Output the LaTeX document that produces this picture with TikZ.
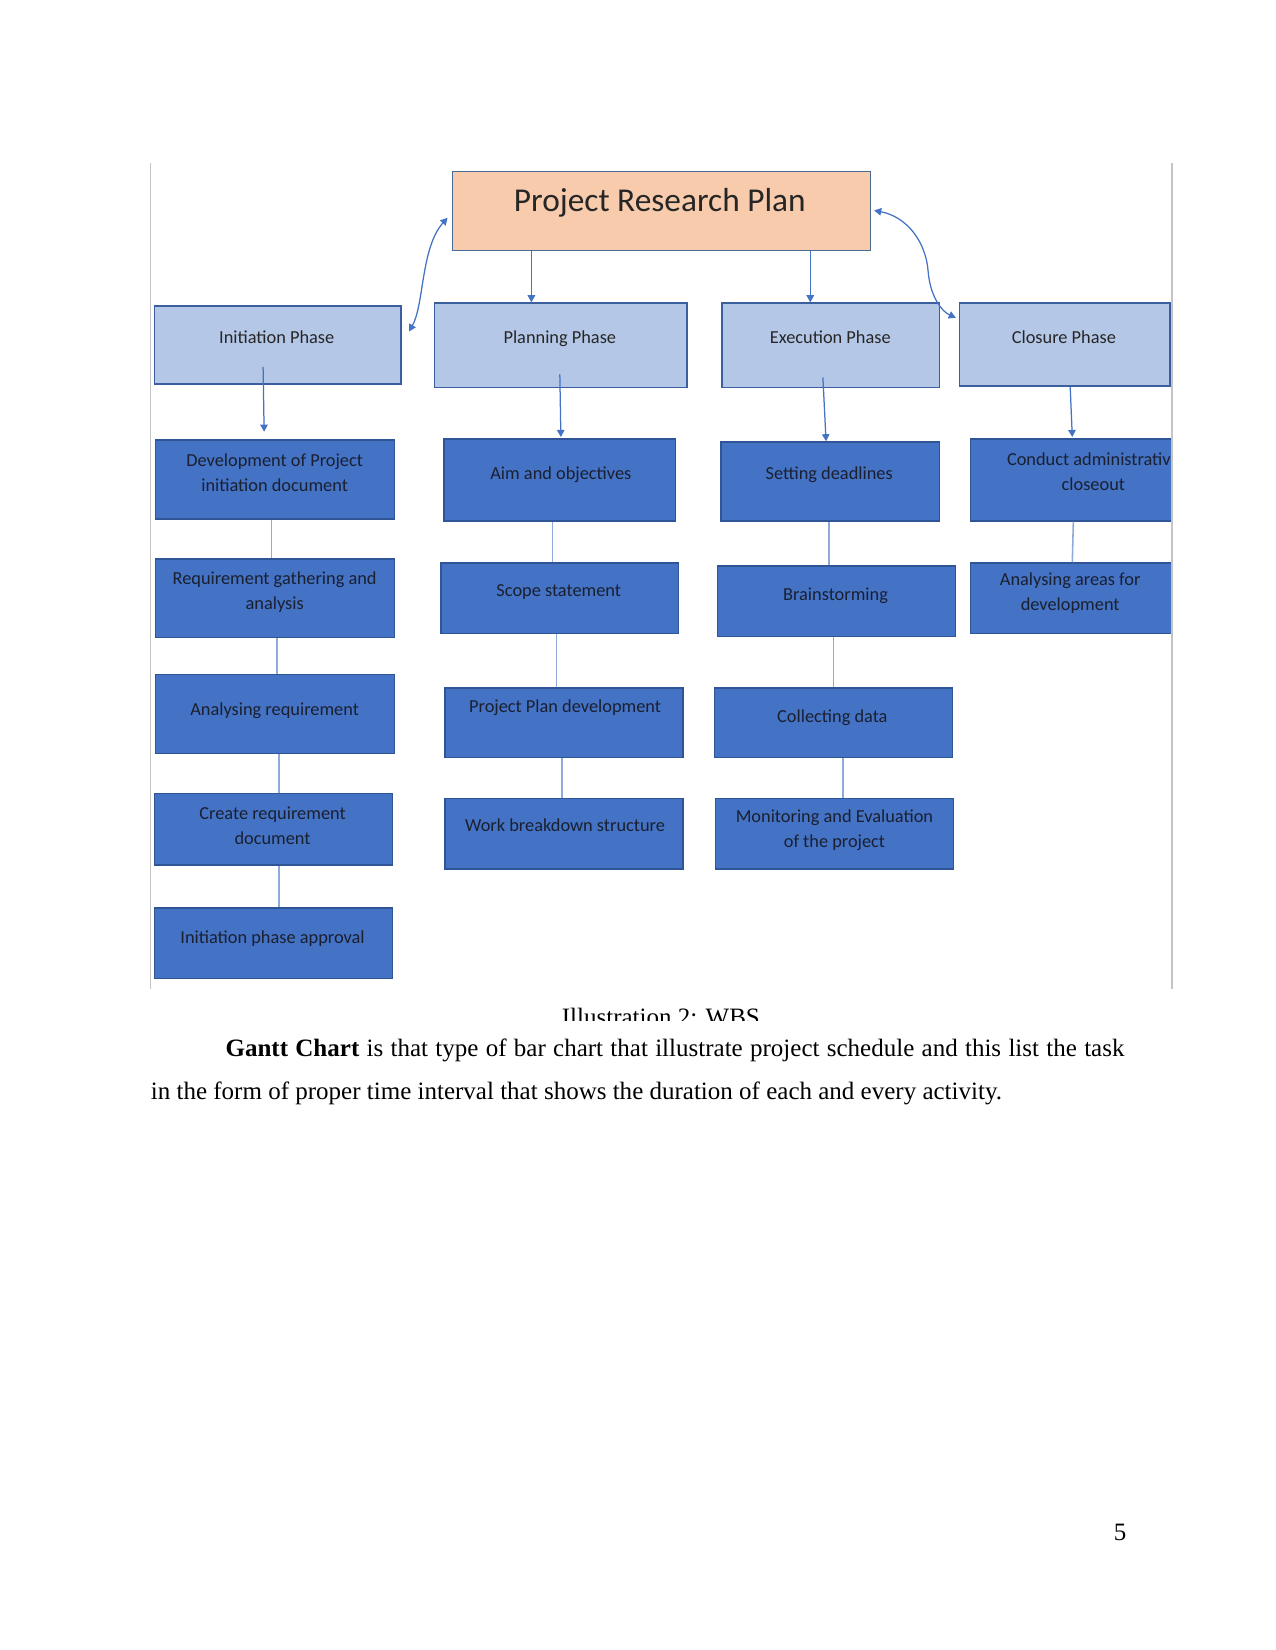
\documentclass[tikz,border=0pt]{standalone}
\usepackage{fontspec}
\setmainfont{Liberation Serif}
\newfontfamily\carl{Carlito}
\usetikzlibrary{arrows.meta,fit,calc}
\definecolor{taskfill}{HTML}{4472C4}
\definecolor{taskline}{HTML}{2F5597}
\definecolor{phasefill}{HTML}{B4C7E7}
\definecolor{phaseline}{HTML}{3A5E9E}
\definecolor{rootfill}{HTML}{F8CBAD}
\definecolor{rootline}{HTML}{4A6A96}
\definecolor{arrblue}{HTML}{4472C4}
\definecolor{connblue}{HTML}{8FAADC}
\definecolor{framegrey}{HTML}{C4C4C4}
\definecolor{darktxt}{HTML}{1A2030}
\begin{document}
\begin{tikzpicture}[x=0.50495pt,y=-0.50495pt,
  rootbox/.style={draw=rootline,fill=rootfill,line width=0.7pt,inner sep=0pt},
  phasebox/.style={draw=phaseline,fill=phasefill,line width=0.7pt,inner sep=0pt},
  taskbox/.style={draw=taskline,fill=taskfill,line width=0.7pt,inner sep=0pt},
  lbl/.style={font=\carl\fontsize{8.8}{12.1}\selectfont,text=darktxt,align=center,inner sep=0pt},
  plbl/.style={font=\carl\fontsize{8.8}{12.1}\selectfont,text=black!85,align=center,inner sep=0pt},
  arr/.style={draw=arrblue,line width=0.6pt,-{Triangle[width=3.6pt,length=3.4pt]}},
  dblarr/.style={draw=arrblue,line width=0.6pt,{Triangle[width=3.6pt,length=3.4pt]}-{Triangle[width=3.6pt,length=3.4pt]}},
  conn/.style={draw=connblue,line width=0.75pt},
  frame/.style={draw=framegrey,line width=0.75pt},
  body/.style={font=\fontsize{12}{14}\selectfont,inner sep=0pt}
]
\useasboundingbox (0,0) rectangle (1212,1568);
\fill[white] (0,0) rectangle (1212,1568);

% root
\node[rootbox,fit={(430,163)(827,238)}] (root) {};
\node[font=\carl\fontsize{16}{18}\selectfont,text=black!85,inner sep=0pt,anchor=base] (rootL) at (627,201) {Project Research Plan};

% phases
\node[phasebox,fit={(147,291)(381,365)}] (init) {};
\node[plbl] (initL) at (263,320) {Initiation Phase};
\node[phasebox,fit={(413,288)(653,368)}] (plan) {};
\node[plbl] (planL) at (532,322) {Planning Phase};
\node[phasebox,fit={(686,288)(893,368)}] (exec) {};
\node[plbl] (execL) at (789,320) {Execution Phase};
\node[phasebox,fit={(912,288)(1112,367)}] (clos) {};
\node[plbl] (closL) at (1011,320) {Closure Phase};

% initiation column
\node[taskbox,fit={(148,418)(375,493)}] (dev) {};
\node[lbl] (devL) at (261,449.5) {Development of Project\\initiation document};
\node[taskbox,fit={(148,531)(375,606)}] (req) {};
\node[lbl] (reqL) at (261,563) {Requirement gathering and\\analysis};
\node[taskbox,fit={(148,641)(375,716)}] (ana) {};
\node[lbl] (anaL) at (261,675) {Analysing requirement};
\node[taskbox,fit={(147,754)(373,822)}] (cre) {};
\node[lbl] (creL) at (259,785) {Create requirement\\document};
\node[taskbox,fit={(147,863)(373,930)}] (app) {};
\node[lbl] (appL) at (259,892) {Initiation phase approval};

% planning column
\node[taskbox,fit={(422,417)(642,495)}] (aim) {};
\node[lbl] (aimL) at (533,451) {Aim and objectives};
\node[taskbox,fit={(419,535)(645,602)}] (scope) {};
\node[lbl] (scopeL) at (531,563) {Scope statement};
\node[taskbox,fit={(423,654)(649,720)}] (ppd) {};
\node[lbl] (ppdL) at (537,673) {Project Plan development};
\node[taskbox,fit={(423,759)(649,826)}] (wbs) {};
\node[lbl] (wbsL) at (537,784) {Work breakdown structure};

% execution column
\node[taskbox,fit={(685,420)(893,495)}] (dead) {};
\node[lbl] (deadL) at (788,451) {Setting deadlines};
\node[taskbox,fit={(682,538)(908,605)}] (brain) {};
\node[lbl] (brainL) at (794,566) {Brainstorming};
\node[taskbox,fit={(679,654)(905,720)}] (coll) {};
\node[lbl] (collL) at (791,682) {Collecting data};
\node[taskbox,fit={(680,759)(906,826)}] (mon) {};
\node[lbl] (monL) at (793,789) {Monitoring and Evaluation\\of the project};

% closure column (clipped by frame)
\begin{scope}
\clip (0,0) rectangle (1112.6,1568);
\node[taskbox,fit={(922,417)(1120,495)}] (cond) {};
\node[lbl] (condL) at (1039,448) {Conduct administrative\\closeout};
\node[taskbox,fit={(922,535)(1120,602)}] (areas) {};
\node[lbl] (areasL) at (1017,564) {Analysing areas for\\development};
\end{scope}

% frame lines
\coordinate (fl1) at (143,155); \coordinate (fl2) at (143,940);
\coordinate (fr1) at (1113.5,155); \coordinate (fr2) at (1113.5,940);
\draw[frame] (fl1) -- (fl2);
\draw[frame] (fr1) -- (fr2);

% root to phases
\coordinate (xp) at (505,0);
\coordinate (xe) at (770,0);
\draw[arr] (root.south -| xp) -- (plan.north -| xp);
\draw[arr] (root.south -| xe) -- (exec.north -| xe);
\draw[dblarr] ($(init.east)+(7,-13)$) .. controls (403,290) and (400,235) .. ($(root.west)+(-4,6.5)$);
\draw[dblarr] ($(root.east)+(3,-0.5)$) .. controls (862,206) and (880,230) .. (882,258) .. controls (884,282) and (895,296) .. ($(clos.west)+(-3,-25.5)$);

% phases to first tasks
\draw[arr] ($(init.south)+(-14,-17)$) -- ($(dev.north)+(-10.5,-7)$);
\draw[arr] ($(plan.south)+(-1,-13)$) -- ($(aim.north)+(1,-1)$);
\draw[arr] ($(exec.south)+(-7.5,-10)$) -- ($(dead.north)+(-4,0)$);
\draw[arr] ($(clos.south)+(5,0)$) -- ($(cond.north)+(-2,-1)$);

% task connectors
\coordinate (k1) at (258,0); \coordinate (k2) at (263,0); \coordinate (k3) at (265,0); \coordinate (k4) at (265,0);
\draw[conn] (dev.south -| k1) -- (req.north -| k1);
\draw[conn] (req.south -| k2) -- (ana.north -| k2);
\draw[conn] (ana.south -| k3) -- (cre.north -| k3);
\draw[conn] (cre.south -| k4) -- (app.north -| k4);
\coordinate (m1) at (525,0); \coordinate (m2) at (529,0); \coordinate (m3) at (534,0);
\draw[conn] (aim.south -| m1) -- (scope.north -| m1);
\draw[conn] (scope.south -| m2) -- (ppd.north -| m2);
\draw[conn] (ppd.south -| m3) -- (wbs.north -| m3);
\coordinate (e1) at (788,0); \coordinate (e2) at (792,0); \coordinate (e3) at (801,0);
\draw[conn] (dead.south -| e1) -- (brain.north -| e1);
\draw[conn] (brain.south -| e2) -- (coll.north -| e2);
\draw[conn] (coll.south -| e3) -- (mon.north -| e3);
\draw[conn] ($(cond.south)+(-1,0)$) -- ($(areas.north)+(-2,0)$);

% caption (cut off)
\begin{scope}
\clip (0,940) rectangle (1212,969.5);
\node[body,anchor=base] (cap) at (628,975) {Illustration 2: WBS};
\end{scope}

% body text
\node[body,anchor=base west] (line1) at (214,1004) {\makebox[431.3pt][s]{\textbf{Gantt Chart} is that type of bar chart that illustrate project schedule and this list the task}};
\node[body,anchor=base west] (line2) at (143,1045) {in the form of proper time interval that shows the duration of each and every activity.};
\node[body,anchor=base west] (pnum) at (1058,1464) {5};
\end{tikzpicture}
\end{document}
